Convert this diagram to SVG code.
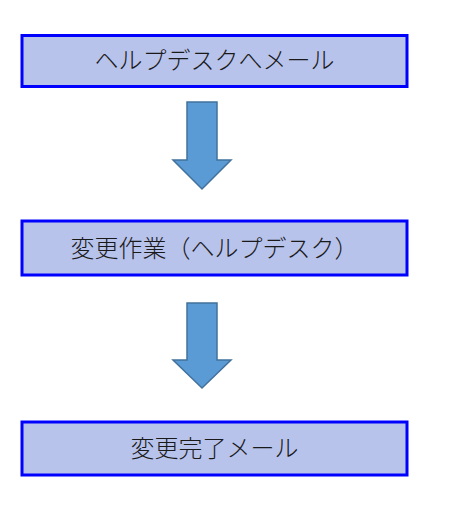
<svg xmlns="http://www.w3.org/2000/svg" width="456" height="527" viewBox="0 0 456 527">
<style>
.box{fill:#b8c3ec;stroke:#0000ff;stroke-width:3}
.lbl{font-family:"Noto Sans CJK JP","Noto Sans CJK SC",sans-serif;font-size:24px;font-weight:300;fill:#1a1a1a;text-anchor:middle}
.arr{fill:#5b9bd5;stroke:#41719c;stroke-width:1.5}
</style>
<rect width="456" height="527" fill="#ffffff"/>
<g id="connectors">
<path class="arr" d="M187,102 H217 V160 H231 L202,189 L173,160 H187 Z"/>
<path class="arr" d="M187,303 H217 V360 H231 L202,388 L173,360 H187 Z"/>
</g>
<g id="node1">
<rect class="box" x="22" y="35.5" width="385" height="51"/>
<text class="lbl" x="214.5" y="68.5">ヘルプデスクへメール</text>
</g>
<g id="node2">
<rect class="box" x="22" y="221" width="385" height="54"/>
<text class="lbl" x="214.5" y="256.5">変更作業（ヘルプデスク）</text>
</g>
<g id="node3">
<rect class="box" x="22" y="422" width="385" height="53"/>
<text class="lbl" x="214.5" y="456.5">変更完了メール</text>
</g>
</svg>
